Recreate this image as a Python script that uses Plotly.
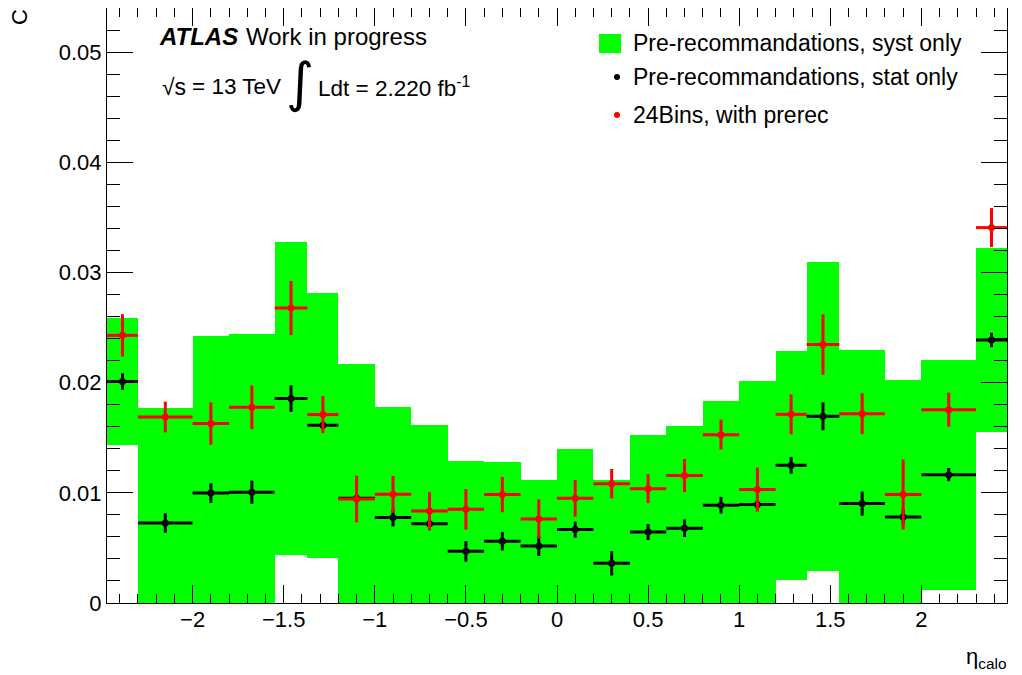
import plotly.graph_objects as go

# ---- data -------------------------------------------------------------
bin_edges = [-2.47, -2.3, -2.0, -1.8, -1.55, -1.37, -1.2, -1.0, -0.8, -0.6, -0.4, -0.2,
             0.0, 0.2, 0.4, 0.6, 0.8, 1.0, 1.2, 1.37, 1.55, 1.8, 2.0, 2.3, 2.47]

prerec_value = [0.0201, 0.00726, 0.00998, 0.01005, 0.01855, 0.01613, 0.0095, 0.00775,
                0.0072, 0.00469, 0.0056, 0.00517, 0.00666, 0.0036, 0.00644, 0.00678,
                0.00887, 0.00893, 0.0125, 0.01694, 0.00902, 0.0078, 0.01165, 0.02387]
prerec_stat = [0.00076, 0.00088, 0.0009, 0.00105, 0.0012, 0.00035, 0.0004, 0.0008,
               0.0006, 0.00094, 0.00083, 0.0009, 0.00073, 0.0011, 0.00073, 0.00079,
               0.00076, 0.00045, 0.00076, 0.00126, 0.00109, 0.0007, 0.0006, 0.00065]
prerec_syst = [0.0058, 0.01047, 0.01425, 0.01433, 0.01422, 0.01205, 0.01222, 0.01004,
               0.00899, 0.0082, 0.00717, 0.00603, 0.00732, 0.00753, 0.00878, 0.00925,
               0.00943, 0.01119, 0.01039, 0.01402, 0.01391, 0.01241, 0.01044, 0.00835]

bins24_value = [0.02429, 0.01688, 0.01628, 0.01776, 0.02677, 0.0171, 0.00944, 0.00986,
                0.00835, 0.0085, 0.00984, 0.00762, 0.0095, 0.01083, 0.01038, 0.01157,
                0.01528, 0.01029, 0.01712, 0.02345, 0.01718, 0.00984, 0.01755, 0.03407]
bins24_err = [0.00192, 0.00139, 0.00192, 0.00198, 0.00246, 0.00169, 0.00212, 0.00168,
              0.00171, 0.00184, 0.0016, 0.00178, 0.00166, 0.00133, 0.00131, 0.0015,
              0.00136, 0.002, 0.00181, 0.00274, 0.00185, 0.00318, 0.00154, 0.00177]

legend_labels = ["Pre-recommandations, syst only",
                 "Pre-recommandations, stat only",
                 "24Bins, with prerec"]

# ---- derived ----------------------------------------------------------
centers = [(a + b) / 2 for a, b in zip(bin_edges[:-1], bin_edges[1:])]
widths = [b - a for a, b in zip(bin_edges[:-1], bin_edges[1:])]
halfw = [w / 2 for w in widths]

GREEN = "#00ff00"
FONT = "Liberation Sans, Arial, Helvetica, sans-serif"

# the page body has an 8px default margin: size the figure so it fits the window
OFF = 8
W, H = 1022 - OFF, 675 - OFF
# plot area in window (page) pixels
L, R, T, B = 107, 1007, 8, 603


def px(x):
    return (x - L) / (R - L)


def py(y):
    return (B - y) / (B - T)


fig = go.Figure()

fig.add_trace(go.Bar(
    x=centers, width=widths,
    base=[v - s for v, s in zip(prerec_value, prerec_syst)],
    y=[2 * s for s in prerec_syst],
    marker=dict(color=GREEN, line=dict(width=0)),
    name=legend_labels[0], showlegend=False, hoverinfo="skip"))

fig.add_trace(go.Scatter(
    x=centers, y=prerec_value, mode="markers",
    marker=dict(color="black", size=7),
    error_x=dict(type="data", array=halfw, color="black", thickness=3, width=0),
    error_y=dict(type="data", array=prerec_stat, color="black", thickness=3, width=0),
    name=legend_labels[1], showlegend=False))

fig.add_trace(go.Scatter(
    x=centers, y=bins24_value, mode="markers",
    marker=dict(color="red", size=7),
    error_x=dict(type="data", array=halfw, color="red", thickness=3, width=0),
    error_y=dict(type="data", array=bins24_err, color="red", thickness=3, width=0),
    name=legend_labels[2], showlegend=False))

axis_common = dict(showgrid=False, zeroline=False, showline=True, linecolor="black",
                   linewidth=1, ticks="inside", tickcolor="black", tickwidth=1,
                   mirror="allticks",
                   tickfont=dict(family=FONT, size=22, color="black"))

fig.update_xaxes(range=[bin_edges[0], bin_edges[-1]], tick0=0, dtick=0.5, ticklen=18,
                 ticklabelstandoff=-3,
                 minor=dict(ticks="inside", dtick=0.1, ticklen=9, tickcolor="black"),
                 **axis_common)
fig.update_yaxes(range=[0, 0.054], tick0=0, dtick=0.01, ticklen=26,
                 minor=dict(ticks="inside", dtick=0.002, ticklen=13, tickcolor="black"),
                 **axis_common)

ann = []
shapes = []


def text(xp, yp, s, size, xanchor="left", family=FONT, **kw):
    ann.append(dict(x=px(xp), y=py(yp), xref="paper", yref="paper", xanchor=xanchor,
                    yanchor="middle", showarrow=False, text=s,
                    font=dict(family=family, size=size, color="black"), **kw))


# ATLAS label
text(157, 36, "<b><i>ATLAS</i></b>", 24)
text(244, 36, "Work in progress", 24)
text(160, 87, "√s", 23)
text(283, 87, "= 13 TeV", 22.5, xanchor="right")
text(300, 82, "∫", 54, xanchor="center", family="DejaVu Sans")
text(316, 87, "Ldt = 2.220 fb<sup>-1</sup>", 22.5)

# legend
shapes.append(dict(type="rect", xref="paper", yref="paper", x0=px(599), x1=px(621),
                   y0=py(53), y1=py(34), fillcolor=GREEN, line=dict(width=0)))
for yc, col in [(77, "black"), (115, "red")]:
    shapes.append(dict(type="circle", xref="paper", yref="paper", x0=px(614), x1=px(620),
                       y0=py(yc + 3), y1=py(yc - 3), fillcolor=col, line=dict(width=0)))
for yc, lab in zip([43, 77, 115], legend_labels):
    text(631, yc, lab, 23)

# axis titles
text(1008, 658, "η<sub>calo</sub>", 22, xanchor="right")
ann.append(dict(x=px(19), y=py(7), xref="paper", yref="paper", xanchor="center",
                yanchor="top", showarrow=False, text="C", textangle=-90,
                font=dict(family=FONT, size=22, color="black")))

fig.update_layout(width=W, height=H,
                  margin=dict(l=L - OFF, r=W - (R - OFF), t=T - OFF, b=H - (B - OFF), pad=0),
                  paper_bgcolor="white", plot_bgcolor="white", showlegend=False,
                  bargap=0, annotations=ann, shapes=shapes,
                  font=dict(family=FONT, color="black"))

fig.write_html("out.html")
